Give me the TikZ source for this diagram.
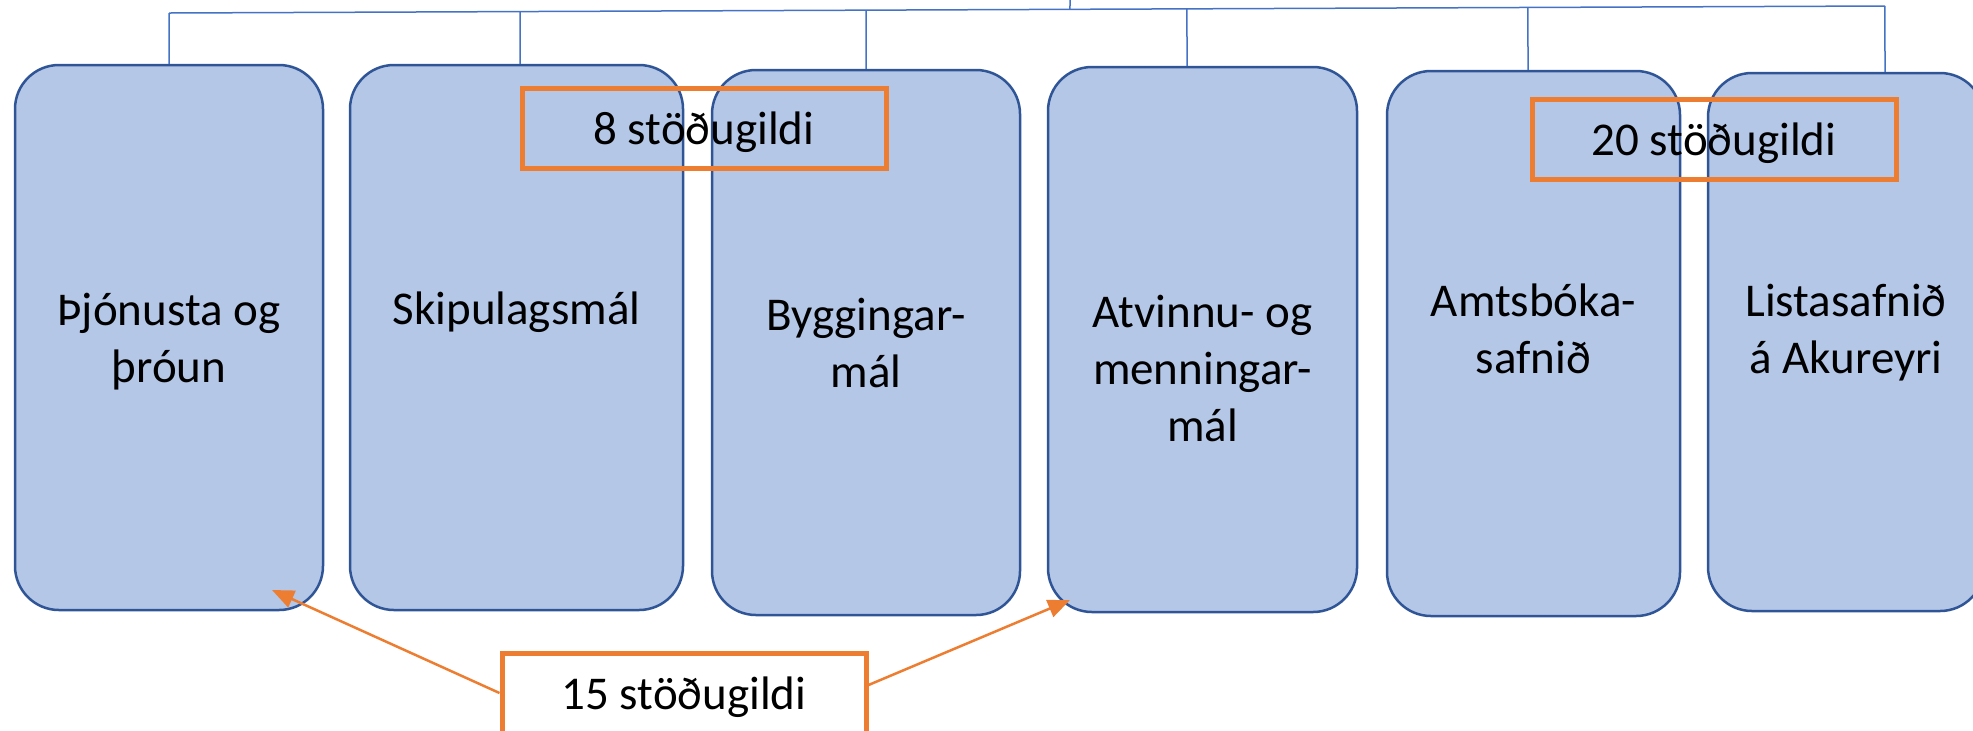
\documentclass[tikz,border=0pt]{standalone}
\usepackage{fontspec}
\setmainfont{Carlito}
\usetikzlibrary{calc,arrows.meta}
\definecolor{unitfill}{HTML}{B4C7E7}
\definecolor{unitline}{HTML}{2F5597}
\definecolor{busline}{HTML}{4472C4}
\definecolor{staffline}{HTML}{ED7D31}

\begin{document}
\begin{tikzpicture}[x=0.5pt,y=-0.5pt,
	unit/.style={draw=unitline,line width=1.25pt,fill=unitfill,rounded corners=22pt,inner sep=0pt},
	unittext/.style={align=center,anchor=base,font=\fontsize{23.5}{28.5}\selectfont},
	bus/.style={draw=busline,line width=0.75pt},
	staff/.style={draw=staffline,line width=2.5pt,inner sep=0pt,minimum width=182pt,minimum height=40pt,text height=21.5pt,text depth=4.7pt,font=\fontsize{23.5}{28.5}\selectfont},
	pointer/.style={draw=staffline,line width=1.25pt,-{Triangle[length=11pt,width=9pt]}}]
	\useasboundingbox (0,0) rectangle (1973,730);
	% units
	\foreach \N/\L/\T/\R/\B in {b1/15/65/323/610,b2/350/65/683/610,b3/712/70/1020/615,b4/1048/67/1357/612,b5/1387/71/1680/616,b6/1708/73/1984/611}
	{\node[unit,minimum width=(\R-\L)*0.5pt,minimum height=(\B-\T)*0.5pt] (\N) at ({(\L+\R)/2},{(\T+\B)/2}) {};}
	% last baseline of each text
	\foreach \N/\M/\Y/\S in {b1/t1/382/{Þjónusta og\\þróun},b2/t2/324/{Skipulagsmál},b3/t3/387/{Byggingar-\\mál},b4/t4/441/{Atvinnu- og\\menningar-\\mál},b5/t5/373/{Amtsbóka-\\safnið},b6/t6/373/{Listasafnið\\á Akureyri}}
	{\node[unittext] (\M) at (\N.north |- 0,\Y) {\S};}
	% lines to the units
	\coordinate (busL) at (169,13);
	\coordinate (busR) at (1885,6);
	\coordinate (head) at (1070,0);
	\draw[bus] (busL) -- (busR);
	\draw[bus] (head) -- ($(busL)!(head)!(busR)$);
	\foreach \N/\X in {b1/169,b2/520,b3/866,b4/1187,b5/1528,b6/1885}
	{\draw[bus] (\N.north -| \X,0) -- ($(busL)!(\X,0)!(busR)$);}
	% staff counts
	\node[staff] (s8) at (704,128) {8 stöðugildi};
	\node[staff] (s20) at (1714,139) {20 stöðugildi};
	\node[staff,fill=white] (s15) at (684,693) {15 stöðugildi};
	\coordinate (tipL) at (272,590);
	\coordinate (tipR) at (1070,600);
	\draw[pointer] (s15.west) -- (tipL);
	\draw[pointer] ([yshift=4pt]s15.east) -- (tipR);
\end{tikzpicture}
\end{document}
